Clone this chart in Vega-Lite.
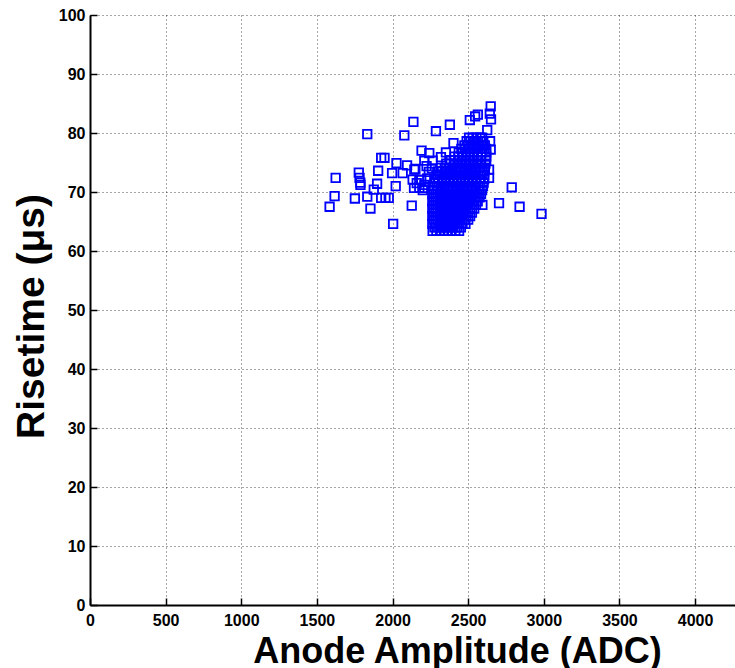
{
  "$schema": "https://vega.github.io/schema/vega-lite/v6.json",
  "autosize": "none",
  "padding": {"left": 90, "top": 15, "right": 0, "bottom": 63},
  "width": 645,
  "height": 590,
  "background": "#ffffff",
  "config": {
    "view": {"stroke": null},
    "font": "Liberation Sans"
  },
  "data": {
    "values": [
      {"a":1584,"r":67.5},{"a":1617,"r":69.3},{"a":1624,"r":72.4},{"a":1751,"r":68.9},{"a":1777,"r":73.3},
      {"a":1782,"r":72.4},{"a":1787,"r":71.6},{"a":1788,"r":71.2},{"a":1833,"r":69.2},{"a":1833,"r":79.8},
      {"a":1854,"r":67.2},{"a":1876,"r":70.4},{"a":1898,"r":71.4},{"a":1905,"r":73.6},{"a":1925,"r":75.8},
      {"a":1947,"r":75.8},{"a":1925,"r":69.0},{"a":1953,"r":69.0},{"a":1975,"r":69.0},{"a":2004,"r":64.6},
      {"a":2021,"r":71.0},{"a":2026,"r":74.9},{"a":1997,"r":73.2},{"a":2078,"r":79.6},{"a":2096,"r":74.5},
      {"a":2127,"r":67.7},{"a":2138,"r":81.9},{"a":2144,"r":73.8},{"a":2133,"r":72.1},{"a":2177,"r":72.1},
      {"a":2142,"r":70.7},{"a":2177,"r":70.7},{"a":2210,"r":70.7},{"a":2192,"r":77.0},{"a":2243,"r":76.6},
      {"a":2210,"r":75.3},{"a":2265,"r":75.3},{"a":2287,"r":80.3},{"a":2320,"r":75.9},{"a":2353,"r":76.7},
      {"a":2379,"r":81.4},{"a":2403,"r":78.3},{"a":2594,"r":67.8},{"a":2704,"r":68.1},{"a":2788,"r":70.8},
      {"a":2840,"r":67.5},{"a":2985,"r":66.3},{"a":2649,"r":84.5},{"a":2643,"r":83.3},{"a":2564,"r":83.1},
      {"a":2511,"r":82.2},{"a":2651,"r":82.3},{"a":2626,"r":80.5},{"a":2546,"r":82.8},{"a":2645,"r":78.6},
      {"a":2649,"r":77.2},{"a":2638,"r":73.8},{"a":2638,"r":72.4},{"a":2151,"r":73.9},{"a":2067,"r":73.2},
      {"a":2160,"r":71.5},{"a":2190,"r":72.0},{"a":2210,"r":71.2},{"a":2230,"r":72.3},{"a":2200,"r":70.3},
      {"a":2240,"r":73.4},{"a":2225,"r":74.4},{"a":2260,"r":74.0},
      {"a":2265,"r":63.4},{"a":2290,"r":63.4},{"a":2315,"r":63.4},{"a":2340,"r":63.4},{"a":2365,"r":63.4},{"a":2390,"r":63.4},{"a":2415,"r":63.4},{"a":2440,"r":63.4},
      {"a":2277,"r":64.0},{"a":2302,"r":64.0},{"a":2327,"r":64.0},{"a":2352,"r":64.0},{"a":2377,"r":64.0},{"a":2402,"r":64.0},{"a":2427,"r":64.0},{"a":2452,"r":64.0},
      {"a":2263,"r":64.6},{"a":2288,"r":64.6},{"a":2313,"r":64.6},{"a":2338,"r":64.6},{"a":2363,"r":64.6},{"a":2388,"r":64.6},{"a":2413,"r":64.6},{"a":2438,"r":64.6},{"a":2463,"r":64.6},{"a":2482,"r":64.6},
      {"a":2275,"r":65.3},{"a":2300,"r":65.3},{"a":2325,"r":65.3},{"a":2350,"r":65.3},{"a":2375,"r":65.3},{"a":2400,"r":65.3},{"a":2425,"r":65.3},{"a":2450,"r":65.3},{"a":2475,"r":65.3},{"a":2500,"r":65.3},
      {"a":2263,"r":65.9},{"a":2288,"r":65.9},{"a":2313,"r":65.9},{"a":2338,"r":65.9},{"a":2363,"r":65.9},{"a":2388,"r":65.9},{"a":2413,"r":65.9},{"a":2438,"r":65.9},{"a":2463,"r":65.9},{"a":2488,"r":65.9},{"a":2513,"r":65.9},
      {"a":2275,"r":66.5},{"a":2300,"r":66.5},{"a":2325,"r":66.5},{"a":2350,"r":66.5},{"a":2375,"r":66.5},{"a":2400,"r":66.5},{"a":2425,"r":66.5},{"a":2450,"r":66.5},{"a":2475,"r":66.5},{"a":2500,"r":66.5},{"a":2525,"r":66.5},
      {"a":2263,"r":67.2},{"a":2288,"r":67.2},{"a":2313,"r":67.2},{"a":2338,"r":67.2},{"a":2363,"r":67.2},{"a":2388,"r":67.2},{"a":2413,"r":67.2},{"a":2438,"r":67.2},{"a":2463,"r":67.2},{"a":2488,"r":67.2},{"a":2513,"r":67.2},{"a":2540,"r":67.2},
      {"a":2275,"r":67.8},{"a":2300,"r":67.8},{"a":2325,"r":67.8},{"a":2350,"r":67.8},{"a":2375,"r":67.8},{"a":2400,"r":67.8},{"a":2425,"r":67.8},{"a":2450,"r":67.8},{"a":2475,"r":67.8},{"a":2500,"r":67.8},{"a":2525,"r":67.8},{"a":2552,"r":67.8},
      {"a":2263,"r":68.4},{"a":2288,"r":68.4},{"a":2313,"r":68.4},{"a":2338,"r":68.4},{"a":2363,"r":68.4},{"a":2388,"r":68.4},{"a":2413,"r":68.4},{"a":2438,"r":68.4},{"a":2463,"r":68.4},{"a":2488,"r":68.4},{"a":2513,"r":68.4},{"a":2538,"r":68.4},{"a":2563,"r":68.4},
      {"a":2275,"r":69.1},{"a":2300,"r":69.1},{"a":2325,"r":69.1},{"a":2350,"r":69.1},{"a":2375,"r":69.1},{"a":2400,"r":69.1},{"a":2425,"r":69.1},{"a":2450,"r":69.1},{"a":2475,"r":69.1},{"a":2500,"r":69.1},{"a":2525,"r":69.1},{"a":2550,"r":69.1},{"a":2575,"r":69.1},
      {"a":2263,"r":69.7},{"a":2288,"r":69.7},{"a":2313,"r":69.7},{"a":2338,"r":69.7},{"a":2363,"r":69.7},{"a":2388,"r":69.7},{"a":2413,"r":69.7},{"a":2438,"r":69.7},{"a":2463,"r":69.7},{"a":2488,"r":69.7},{"a":2513,"r":69.7},{"a":2538,"r":69.7},{"a":2563,"r":69.7},{"a":2585,"r":69.7},
      {"a":2275,"r":70.3},{"a":2300,"r":70.3},{"a":2325,"r":70.3},{"a":2350,"r":70.3},{"a":2375,"r":70.3},{"a":2400,"r":70.3},{"a":2425,"r":70.3},{"a":2450,"r":70.3},{"a":2475,"r":70.3},{"a":2500,"r":70.3},{"a":2525,"r":70.3},{"a":2550,"r":70.3},{"a":2575,"r":70.3},{"a":2592,"r":70.3},
      {"a":2268,"r":71.0},{"a":2293,"r":71.0},{"a":2318,"r":71.0},{"a":2343,"r":71.0},{"a":2368,"r":71.0},{"a":2393,"r":71.0},{"a":2418,"r":71.0},{"a":2443,"r":71.0},{"a":2468,"r":71.0},{"a":2493,"r":71.0},{"a":2518,"r":71.0},{"a":2543,"r":71.0},{"a":2568,"r":71.0},{"a":2598,"r":71.0},
      {"a":2280,"r":71.6},{"a":2305,"r":71.6},{"a":2330,"r":71.6},{"a":2355,"r":71.6},{"a":2380,"r":71.6},{"a":2405,"r":71.6},{"a":2430,"r":71.6},{"a":2455,"r":71.6},{"a":2480,"r":71.6},{"a":2505,"r":71.6},{"a":2530,"r":71.6},{"a":2555,"r":71.6},{"a":2580,"r":71.6},{"a":2602,"r":71.6},
      {"a":2276,"r":72.2},{"a":2301,"r":72.2},{"a":2326,"r":72.2},{"a":2351,"r":72.2},{"a":2376,"r":72.2},{"a":2401,"r":72.2},{"a":2426,"r":72.2},{"a":2451,"r":72.2},{"a":2476,"r":72.2},{"a":2501,"r":72.2},{"a":2526,"r":72.2},{"a":2551,"r":72.2},{"a":2576,"r":72.2},{"a":2606,"r":72.2},
      {"a":2290,"r":72.9},{"a":2315,"r":72.9},{"a":2340,"r":72.9},{"a":2365,"r":72.9},{"a":2390,"r":72.9},{"a":2415,"r":72.9},{"a":2440,"r":72.9},{"a":2465,"r":72.9},{"a":2490,"r":72.9},{"a":2515,"r":72.9},{"a":2540,"r":72.9},{"a":2565,"r":72.9},{"a":2590,"r":72.9},{"a":2606,"r":72.9},
      {"a":2303,"r":73.5},{"a":2328,"r":73.5},{"a":2353,"r":73.5},{"a":2378,"r":73.5},{"a":2403,"r":73.5},{"a":2428,"r":73.5},{"a":2453,"r":73.5},{"a":2478,"r":73.5},{"a":2503,"r":73.5},{"a":2528,"r":73.5},{"a":2553,"r":73.5},{"a":2578,"r":73.5},{"a":2606,"r":73.5},
      {"a":2320,"r":74.1},{"a":2345,"r":74.1},{"a":2370,"r":74.1},{"a":2395,"r":74.1},{"a":2420,"r":74.1},{"a":2445,"r":74.1},{"a":2470,"r":74.1},{"a":2495,"r":74.1},{"a":2520,"r":74.1},{"a":2545,"r":74.1},{"a":2570,"r":74.1},{"a":2595,"r":74.1},{"a":2610,"r":74.1},
      {"a":2355,"r":74.8},{"a":2380,"r":74.8},{"a":2405,"r":74.8},{"a":2430,"r":74.8},{"a":2455,"r":74.8},{"a":2480,"r":74.8},{"a":2505,"r":74.8},{"a":2530,"r":74.8},{"a":2555,"r":74.8},{"a":2580,"r":74.8},{"a":2614,"r":74.8},
      {"a":2385,"r":75.4},{"a":2410,"r":75.4},{"a":2435,"r":75.4},{"a":2460,"r":75.4},{"a":2485,"r":75.4},{"a":2510,"r":75.4},{"a":2535,"r":75.4},{"a":2560,"r":75.4},{"a":2585,"r":75.4},{"a":2619,"r":75.4},
      {"a":2410,"r":76.0},{"a":2435,"r":76.0},{"a":2460,"r":76.0},{"a":2485,"r":76.0},{"a":2510,"r":76.0},{"a":2535,"r":76.0},{"a":2560,"r":76.0},{"a":2585,"r":76.0},{"a":2619,"r":76.0},
      {"a":2438,"r":76.7},{"a":2463,"r":76.7},{"a":2488,"r":76.7},{"a":2513,"r":76.7},{"a":2538,"r":76.7},{"a":2563,"r":76.7},{"a":2588,"r":76.7},{"a":2619,"r":76.7},
      {"a":2455,"r":77.3},{"a":2480,"r":77.3},{"a":2505,"r":77.3},{"a":2530,"r":77.3},{"a":2555,"r":77.3},{"a":2580,"r":77.3},{"a":2605,"r":77.3},{"a":2619,"r":77.3},
      {"a":2475,"r":77.9},{"a":2500,"r":77.9},{"a":2525,"r":77.9},{"a":2550,"r":77.9},{"a":2575,"r":77.9},{"a":2600,"r":77.9},{"a":2610,"r":77.9},
      {"a":2490,"r":78.6},{"a":2515,"r":78.6},{"a":2540,"r":78.6},{"a":2565,"r":78.6},{"a":2590,"r":78.6},{"a":2600,"r":78.6},
      {"a":2506,"r":79.2},{"a":2530,"r":79.2},{"a":2555,"r":79.2},{"a":2580,"r":79.2},{"a":2592,"r":79.2}
    ]
  },
  "mark": {"type": "point", "shape": "square", "filled": false, "color": "#0000ff", "size": 72, "strokeWidth": 1.8, "opacity": 1},
  "encoding": {
    "x": {
      "field": "a", "type": "quantitative",
      "scale": {"domain": [0, 4264], "nice": false, "zero": false},
      "axis": {
        "values": [0, 500, 1000, 1500, 2000, 2500, 3000, 3500, 4000],
        "format": "d",
        "grid": true, "gridDash": [1, 3], "gridColor": "#000000", "gridOpacity": 0.7, "gridWidth": 1,
        "domainColor": "#000000", "domainWidth": 2,
        "tickColor": "#000000", "tickSize": -7, "tickWidth": 1.5,
        "labelFont": "Liberation Sans", "labelFontWeight": "bold", "labelFontSize": 16, "labelColor": "#000000",
        "labelPadding": 14, "labelFlush": false, "labelOverlap": false,
        "title": "Anode Amplitude (ADC)",
        "titleFont": "Liberation Sans", "titleFontSize": 36, "titleFontWeight": "bold", "titleColor": "#000000",
        "titleX": 367, "titleY": 57, "titleBaseline": "alphabetic", "titleAlign": "center", "titleAnchor": null
      }
    },
    "y": {
      "field": "r", "type": "quantitative",
      "scale": {"domain": [0, 100], "nice": false},
      "axis": {
        "values": [0, 10, 20, 30, 40, 50, 60, 70, 80, 90, 100],
        "grid": true, "gridDash": [1, 3], "gridColor": "#000000", "gridOpacity": 0.7, "gridWidth": 1,
        "domainColor": "#000000", "domainWidth": 2,
        "tickColor": "#000000", "tickSize": -7, "tickWidth": 1.5,
        "labelFont": "Liberation Sans", "labelFontWeight": "bold", "labelFontSize": 16, "labelColor": "#000000",
        "labelPadding": 12, "labelFlush": false, "labelOverlap": false,
        "title": "Risetime (μs)",
        "titleFont": "Liberation Sans", "titleFontSize": 39, "titleFontWeight": "bold", "titleColor": "#000000",
        "titleAngle": -90, "titleX": -47, "titleY": 301, "titleBaseline": "alphabetic", "titleAlign": "center", "titleAnchor": null
      }
    }
  }
}
